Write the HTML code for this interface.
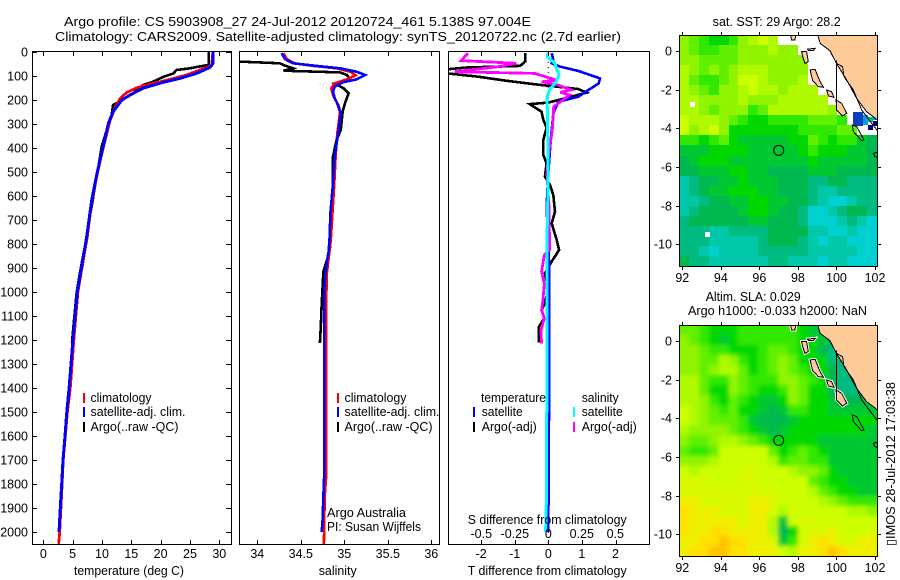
<!DOCTYPE html>
<html lang="en">
<head>
<meta charset="utf-8">
<title>Argo profile</title>
<style>
html,body{margin:0;padding:0;background:#fff;}
svg{display:block;}
text{font-family:"Liberation Sans",sans-serif;font-size:12.5px;fill:#000;}
</style>
</head>
<body>
<svg id="fig" xmlns="http://www.w3.org/2000/svg" width="900" height="580" viewBox="0 0 900 580">
<defs>
<clipPath id="c1"><rect x="32" y="52" width="200" height="493"/></clipPath>
<clipPath id="c2"><rect x="240" y="52" width="199" height="493"/></clipPath>
<clipPath id="c3"><rect x="449" y="52" width="200" height="493"/></clipPath>
<clipPath id="m1"><rect x="679" y="35" width="198" height="231"/></clipPath>
<clipPath id="m2"><rect x="679" y="325" width="198" height="231"/></clipPath>
<filter id="soft" filterUnits="userSpaceOnUse" x="640" y="290" width="260" height="290"><feGaussianBlur stdDeviation="2.2"/></filter>
</defs>
<rect width="900" height="580" fill="#fff"/>
<text x="64" y="26" textLength="467" lengthAdjust="spacingAndGlyphs">Argo profile: CS 5903908_27 24-Jul-2012 20120724_461 5.138S 97.004E</text>
<text x="55" y="41" textLength="566" lengthAdjust="spacingAndGlyphs">Climatology: CARS2009. Satellite-adjusted climatology: synTS_20120722.nc (2.7d earlier)</text>

<g id="layer-panels"></g>
<g id="layer-maps"></g>

<g>
<rect x="83" y="393" width="2" height="10" fill="#f00"/>
<rect x="83" y="407" width="2" height="10" fill="#00f"/>
<rect x="83" y="422" width="2" height="10" fill="#000"/>
<text x="90.5" y="402" textLength="61" lengthAdjust="spacingAndGlyphs">climatology</text>
<text x="90.5" y="416" textLength="95" lengthAdjust="spacingAndGlyphs">satellite-adj. clim.</text>
<text x="90.5" y="431" textLength="88" lengthAdjust="spacingAndGlyphs">Argo(..raw -QC)</text>
</g>
<g>
<rect x="337" y="393" width="2" height="10" fill="#f00"/>
<rect x="337" y="407" width="2" height="10" fill="#00f"/>
<rect x="337" y="422" width="2" height="10" fill="#000"/>
<text x="344.5" y="402" textLength="62" lengthAdjust="spacingAndGlyphs">climatology</text>
<text x="344.5" y="416" textLength="95" lengthAdjust="spacingAndGlyphs">satellite-adj. clim.</text>
<text x="344.5" y="431" textLength="88" lengthAdjust="spacingAndGlyphs">Argo(..raw -QC)</text>
<text x="327" y="517" textLength="79" lengthAdjust="spacingAndGlyphs">Argo Australia</text>
<text x="327" y="531" textLength="94" lengthAdjust="spacingAndGlyphs">PI: Susan Wijffels</text>
</g>
<g>
<text x="481" y="402" textLength="65" lengthAdjust="spacingAndGlyphs">temperature</text>
<text x="581.7" y="402" textLength="37" lengthAdjust="spacingAndGlyphs">salinity</text>
<rect x="473" y="407" width="2" height="10" fill="#00f"/>
<rect x="473" y="422" width="2" height="10" fill="#000"/>
<rect x="573" y="407" width="2" height="10" fill="#0ff"/>
<rect x="573" y="422" width="2" height="10" fill="#f0f"/>
<text x="481.7" y="416" textLength="41" lengthAdjust="spacingAndGlyphs">satellite</text>
<text x="481.7" y="431" textLength="55" lengthAdjust="spacingAndGlyphs">Argo(-adj)</text>
<text x="581.7" y="416" textLength="41" lengthAdjust="spacingAndGlyphs">satellite</text>
<text x="581.7" y="431" textLength="55" lengthAdjust="spacingAndGlyphs">Argo(-adj)</text>
<text x="467.7" y="524" textLength="159" lengthAdjust="spacingAndGlyphs">S difference from climatology</text>
</g>

<text x="74" y="575" textLength="110" lengthAdjust="spacingAndGlyphs">temperature (deg C)</text>
<text x="318.7" y="575" textLength="38" lengthAdjust="spacingAndGlyphs">salinity</text>
<text x="467.7" y="575" textLength="159" lengthAdjust="spacingAndGlyphs">T difference from climatology</text>

<text x="712.7" y="26" textLength="128" lengthAdjust="spacingAndGlyphs">sat. SST: 29 Argo: 28.2</text>
<text x="705.7" y="301" textLength="95" lengthAdjust="spacingAndGlyphs">Altim. SLA: 0.029</text>
<text x="688" y="315" textLength="179" lengthAdjust="spacingAndGlyphs">Argo h1000: -0.033 h2000: NaN</text>
<text transform="translate(895,546) rotate(-90)" textLength="164" lengthAdjust="spacingAndGlyphs">▯IMOS 28-Jul-2012 17:03:38</text>
</svg>

<script>
// ---------- Profile data (depth in dbar) ----------
const depthTicks = [0,100,200,300,400,500,600,700,800,900,1000,1100,1200,1300,1400,1500,1600,1700,1800,1900,2000];
const tempTicks = [0,5,10,15,20,25,30];
const salTicks = [34,34.5,35,35.5,36];
const salTickLabels = ['34','34.5','35','35.5','36'];
const tDiffTicks = [-2,-1,0,1,2];
const sDiffTicks = [-0.5,-0.25,0,0.25,0.5];
const sDiffTickLabels = ['-0.5','-0.25','0','0.25','0.5'];
const lonTicks = [92,94,96,98,100,102];
const latTicks = [0,-2,-4,-6,-8,-10];

const argoTempDepth = [0,54,55,68,75,89,103,124,138,172,207,221,269,325,394,478,561,644,714,783,900,1000,1100,1210];
const argoTemp = [28.2,28.2,27.8,25,22.7,22.2,20.5,18.7,17,15.3,13,11.9,11.6,10.8,9.95,9.4,8.8,8.25,7.67,7.3,6.4,5.7,5.3,4.9];
const climTempDepth = [0,55,75,96,114,131,149,169,193,235,283,415,506,617,769,1000,1200,1400,1500,1600,1700,1800,1900,2000,2054];
const climTemp = [28.9,28.7,26.7,24.4,21.6,18.7,15.9,14.2,13.1,12.2,11.4,10.05,9.2,8.3,7.5,5.9,5.2,4.6,4.1,3.75,3.4,3.2,3.0,2.8,2.6];
const satTempDepth = [0,48,64,89,110,126,151,179,200,249,297,415,506,617,769,1000,1200,1400,1500,1600,1700,1800,1900,2000];
const satTemp = [28.9,28.9,28.4,26.1,23.3,20.5,17,14.8,13.4,11.9,11.1,10,9.15,8.25,7.4,5.8,5.05,4.4,4,3.7,3.36,3.13,2.9,2.67];

const argoSalDepth = [40,47,54,68,78,85,96,114,131,151,172,211,249,325,367,436,547,756,825,915,1048,1145,1213];
const argoSal = [33.8,34.26,34.3,34.41,34.3,34.95,35.03,35.07,34.89,34.99,35.05,35.01,34.98,34.96,34.91,34.87,34.87,34.84,34.835,34.76,34.74,34.73,34.72];
const climSalDepth = [5,30,47,58,68,82,97,114,131,151,179,207,249,339,436,547,783,935,1658,1776,1853,1950,2054];
const climSal = [34.3,34.34,34.43,34.64,34.91,35.07,35.13,35.03,34.89,34.85,34.87,34.91,34.95,34.92,34.9,34.885,34.845,34.795,34.79,34.79,34.775,34.77,34.765];
const satSalDepth = [5,30,47,58,68,82,96,114,126,144,165,193,221,256,339,436,547,672,783,832,873,935,990,1750,1850,1950,2000];
const satSal = [34.28,34.32,34.41,34.68,34.95,35.14,35.24,35.14,34.99,34.89,34.87,34.89,34.93,34.96,34.93,34.89,34.87,34.84,34.83,34.82,34.8,34.78,34.77,34.77,34.76,34.75,34.74];

const argoTDiffDepth = [5,40,58,65,72,89,103,119,133,154,169,186,211,217,249,283,314,367,429,464,519,554,596,665,714,783,825,873,922,985,1047,1075,1110,1145,1211];
const argoTDiff = [-0.69,-0.69,-0.84,-2.48,-3,-3,-2.08,-1.29,-0.5,0.89,1.14,0.69,0,-0.55,-0.2,-0.15,-0.05,-0.15,-0.15,-0.05,-0.1,0.05,0.15,0.2,0.1,0.25,0.32,0.1,-0.1,0,-0.1,-0.2,-0.12,-0.28,-0.28];
const satTDiffDepth = [5,33,47,61,79,110,131,158,186,207,256,325,408,506,644,900,1300,2000];
const satTDiff = [0.1,0.15,0.1,0.35,0.9,1.54,1.5,1.2,0.9,0.3,0.15,0.1,0.05,0,-0.05,0.03,0.03,0];
const argoSDiffDepth = [5,36,47,61,82,89,117,124,135,158,168,179,228,325,436,506,644,825,846,915,965,1035,1075,1110,1159,1214];
const argoSDiff = [-0.6,-0.65,-0.24,-0.37,-0.7,-0.1,0.06,-0.05,0.06,0.17,0.09,0.16,0.04,0.03,0,-0.01,0.005,0.01,-0.03,-0.05,-0.03,-0.04,-0.05,-0.03,-0.055,-0.05];
const satSDiffDepth = [5,20,47,68,96,124,158,186,297,506,783,1300,1880,2000];
const satSDiff = [-0.005,-0.005,0.05,0.06,0.08,0.06,0.01,-0.01,-0.005,0,-0.01,-0.01,-0.015,-0.02];

// ---------- Map data: one character per cell, '.' = no data, 0-e colour level ----------
const sstRows = [
"87655689a9..........",
"876677888988........",
"8877778888888.......",
"9878789998888.......",
"976678aa98889.......",
"9876889a998999......",
"998888988899999.....",
"9987888679999998....",
"a9998765566667776...",
"a89a85555555666677..",
"66567544444557656643",
"44455554444456555443",
"34555444444445444443",
"33444554433334443333",
"12334454443332233222",
"12344555443332112222",
"11233445544332100122",
"12333345543320012332",
"23333334433320001210",
"22211222233331100100",
"22211111233321011000",
"22101111222221111100",
"32211111122111011000"
];
const slaRows = [
"77655566666654333333",
"87654566666655433333",
"88766555677655322333",
"88779865678755522233",
"88789975678765532223",
"99766876668876532223",
"99755876556875532223",
"99865765445875543334",
"a9876755434665544444",
"a9877764333455555555",
"98888765434555555554",
"87789987655555444444",
"7667aaaaa75676544444",
"8889aaaaa96776644444",
"a9aaaabbaaa988754444",
"bbbaaabbaaaaa7655444",
"bbbbbbbbbbaaa9765544",
"ccbbbbbccbaaaa987666",
"dcccbbbccb9baaaaa998",
"dcccccbcc94abbaaaaaa",
"dccddcccc935abbcaaab",
"ccddeddccb46bcdcbbcc",
"cddeeddccca9ccdedccc"
];
// Isolated fine cells of the SST field (west lon, north lat, colour key)
const sstFineLon = [100.85,101.1,100.85,101.1,100.85,101.1,101.4,101.4,101.65,101.9,101.65,101.9,92.4,93.2];
const sstFineLat = [-3.14,-3.14,-3.39,-3.39,-3.64,-3.64,-3.3,-3.55,-3.85,-3.6,-3.4,-3.3,-2.65,-9.35];
const sstFineKey = ['p','p','p','p','p','p','q','q','r','r','2','q','w','w'];

const levelColors = {'0':'#00d0d0','1':'#00c8a8','2':'#00bc80','3':'#00b850','4':'#00c830','5':'#00d800','6':'#30e800','7':'#60f000','8':'#90f400','9':'#b0fa00','a':'#ccff00','b':'#d8fa00','c':'#eef000','d':'#ffe000','e':'#ffc400','p':'#0a40c0','q':'#00a0e0','r':'#000080','w':'#ffffff'};

// Coastline / islands (lon, lat)
const coastLon = [99,99.15,99.66,100,100.53,101.05,101.57,102.3,102.3,99];
const coastLat = [0.95,0.4,0.02,-0.64,-1.5,-2.45,-3.14,-3.7,0.95,0.95];
const islandLons = [[97.59,97.9,97.85,97.67],[98.19,98.45,98.54,98.37,98.25],[98.5,98.89,98.8,98.54],[98.63,98.89,99.15,99.32,99.06,98.76],[99.49,99.75,99.87,99.58],[99.98,100.27,100.53,100.32,100.01]];
const islandLats = [[0.95,0.95,0.57,0.57],[-0.03,-0.03,-0.55,-0.64,-0.29],[0.1,0.14,0.02,0.02],[-0.98,-0.95,-1.59,-1.88,-1.84,-1.53],[-2.02,-2.1,-2.4,-2.33],[-2.53,-2.71,-3.22,-3.36,-3.05]];
const outlineLons = [[100.82,101.05,101.43,101.31,100.88],[101.91,102.2,102.2,102]];
const outlineLats = [[-3.83,-3.91,-4.6,-4.64,-4.17],[-5.29,-5.21,-5.5,-5.47]];
const shelfLon = [100,100.32,100.39,100.88,101.31,102.12];
const shelfLat = [-0.64,-0.81,-1.33,-2.02,-3.05,-4.12];
const meridianLon = [100,100];
const meridianLat = [-0.5,-2.7];
const argoLon = 97.004;
const argoLat = -5.138;

// ---------- Helpers ----------
const NS = 'http://www.w3.org/2000/svg';
function mk(tag, attrs, parent){
  const el = document.createElementNS(NS, tag);
  for (const k in attrs) el.setAttribute(k, attrs[k]);
  parent.appendChild(el);
  return el;
}
const yDepth = d => 52 + 0.24 * d;
const xTemp = v => 43.3 + 5.867 * v;
const xSal = v => 257.3 + 87 * (v - 34);
const xTDiff = v => 548.3 + 33.6 * v;
const xSDiff = v => 548.3 + 134 * v;
const panels = document.getElementById('layer-panels');
const mapsLayer = document.getElementById('layer-maps');

function drawSeries(g, values, depths, xf, color, name, width){
  const pts = values.map((v,i) => xf(v).toFixed(1) + ',' + yDepth(depths[i]).toFixed(1)).join(' ');
  const el = mk('polyline', {points:pts, fill:'none', stroke:color, 'stroke-width':width, 'shape-rendering':'crispEdges'}, g);
  
  
}
function drawFrame(g, x0, x1, name){
  const r = mk('rect', {x:x0+0.5, y:51.5, width:x1-x0, height:493, fill:'none', stroke:'#000', 'stroke-width':1, 'shape-rendering':'crispEdges'}, g);
  
  
}
function drawLine(g, x1, y1, x2, y2, name){
  const l = mk('line', {x1:x1, y1:y1, x2:x2, y2:y2, stroke:'#000', 'stroke-width':1, 'shape-rendering':'crispEdges'}, g);
  
  
}
function drawLabel(g, x, y, str, anchor, name){
  const t = mk('text', {x:x, y:y, 'text-anchor':anchor}, g);
  t.textContent = str;
  
  
}
function drawXTicks(g, ticks, xf, top, bottom){
  ticks.forEach(v => {
    const x = Math.round(xf(v)) + 0.5;
    if (top) drawLine(g, x, 52, x, 56, 'x-tick-top');
    if (bottom) drawLine(g, x, 545, x, 540, 'x-tick-bottom');
  });
}

// ---------- Panel 1: temperature ----------
const p1 = mk('g', {}, panels);


const p1c = mk('g', {'clip-path':'url(#c1)'}, p1);


drawSeries(p1c, argoTemp, argoTempDepth, xTemp, '#000', 'temperature-argo-line', 2.6);
drawSeries(p1c, climTemp, climTempDepth, xTemp, '#f00', 'temperature-climatology-line', 2.8);
drawSeries(p1c, satTemp, satTempDepth, xTemp, '#00f', 'temperature-satellite-line', 3);
drawFrame(p1, 32, 231, 'temperature-panel-frame');
drawXTicks(p1, tempTicks, xTemp, true, true);
tempTicks.forEach(v => drawLabel(p1, xTemp(v), 558, String(v), 'middle', 'temperature-tick-label'));
depthTicks.forEach(d => {
  const y = Math.round(yDepth(d)) + 0.5;
  drawLine(p1, 32, y, 37, y, 'depth-tick-left');
  drawLine(p1, 231, y, 226, y, 'depth-tick-right');
  drawLabel(p1, 28, y + 4, String(d), 'end', 'depth-tick-label');
});

// ---------- Panel 2: salinity ----------
const p2 = mk('g', {}, panels);


const p2c = mk('g', {'clip-path':'url(#c2)'}, p2);


drawSeries(p2c, argoSal, argoSalDepth, xSal, '#000', 'salinity-argo-line', 2.6);
drawSeries(p2c, climSal, climSalDepth, xSal, '#f00', 'salinity-climatology-line', 2.6);
drawSeries(p2c, satSal, satSalDepth, xSal, '#00f', 'salinity-satellite-line', 2.6);
drawFrame(p2, 239, 439, 'salinity-panel-frame');
drawXTicks(p2, salTicks, xSal, true, true);
salTicks.forEach((v,i) => drawLabel(p2, xSal(v), 558, salTickLabels[i], 'middle', 'salinity-tick-label'));

// ---------- Panel 3: differences ----------
const p3 = mk('g', {}, panels);


const p3c = mk('g', {'clip-path':'url(#c3)'}, p3);


const zero = mk('line', {x1:xTDiff(0), y1:52, x2:xTDiff(0), y2:545, stroke:'#000', 'stroke-width':1, 'stroke-dasharray':'1 4'}, p3c);


drawSeries(p3c, argoTDiff, argoTDiffDepth, xTDiff, '#000', 'tdiff-argo-line', 2.6);
drawSeries(p3c, satTDiff, satTDiffDepth, xTDiff, '#00f', 'tdiff-satellite-line', 2.6);
drawSeries(p3c, argoSDiff, argoSDiffDepth, xSDiff, '#f0f', 'sdiff-argo-line', 2.8);
drawSeries(p3c, satSDiff, satSDiffDepth, xSDiff, '#0ff', 'sdiff-satellite-line', 3);
drawFrame(p3, 448, 649, 'difference-panel-frame');
drawXTicks(p3, tDiffTicks, xTDiff, true, true);
tDiffTicks.forEach(v => drawLabel(p3, xTDiff(v), 558, String(v), 'middle', 't-difference-tick-label'));
sDiffTicks.forEach((v,i) => drawLabel(p3, xSDiff(v), 538, sDiffTickLabels[i], 'middle', 's-difference-tick-label'));

// ---------- Maps ----------
function drawMap(rows, clipId, topPx, lat0Px, name, soft, fineLon, fineLat, fineKey){
  const xLon = lon => 682.3 + 19.27 * (lon - 92);
  const yLat = lat => lat0Px - 19.33 * lat;
  const g = mk('g', {}, mapsLayer);
  
  
  const inner = mk('g', {'clip-path':'url(#' + clipId + ')'}, g);
  
  
  const cells = mk('g', soft ? {filter:'url(#soft)'} : {}, inner);
  
  
  const cw = 198 / rows[0].length;
  const ch = 231 / rows.length;
  const pad = soft ? 12 : 0;
  rows.forEach((row, j) => {
    for (let i = 0; i < row.length; i++){
      const key = row[i];
      if (key === '.') continue;
      const x0 = Math.round(679 + i * cw) - (i === 0 ? pad : 0);
      const x1 = Math.round(679 + (i + 1) * cw) + (i === row.length - 1 ? pad : 0);
      const y0 = Math.round(topPx + j * ch) - (j === 0 ? pad : 0);
      const y1 = Math.round(topPx + (j + 1) * ch) + (j === rows.length - 1 ? pad : 0);
      const cell = mk('rect', {x:x0, y:y0, width:x1-x0, height:y1-y0, fill:levelColors[key], 'shape-rendering':'crispEdges'}, cells);
      
      
    }
  });
  fineLon.forEach((lon, i) => {
    const cell = mk('rect', {x:Math.round(xLon(lon)), y:Math.round(yLat(fineLat[i])), width:5, height:5, fill:levelColors[fineKey[i]], 'shape-rendering':'crispEdges'}, inner);
    
    
  });
  const pts = (lons, lats) => lons.map((v,i) => xLon(v).toFixed(1) + ',' + yLat(lats[i]).toFixed(1)).join(' ');
  const land = mk('polygon', {points:pts(coastLon, coastLat), fill:'#ffcc99', stroke:'#000', 'stroke-width':1, 'shape-rendering':'crispEdges'}, inner);
  
  
  islandLons.forEach((lons, i) => {
    if (soft){
      const h = mk('polygon', {points:pts(lons, islandLats[i]), fill:'#fff', stroke:'#fff', 'stroke-width':3, 'shape-rendering':'crispEdges'}, inner);
      
      
    }
    const isl = mk('polygon', {points:pts(lons, islandLats[i]), fill:'#ffcc99', stroke:'#000', 'stroke-width':1, 'shape-rendering':'crispEdges'}, inner);
    
    
  });
  outlineLons.forEach((lons, i) => {
    const o = mk('polygon', {points:pts(lons, outlineLats[i]), fill:'none', stroke:'#000', 'stroke-width':1, 'shape-rendering':'crispEdges'}, inner);
    
    
  });
  const shelf = mk('polyline', {points:pts(shelfLon, shelfLat), fill:'none', stroke:'#000', 'stroke-width':1, 'shape-rendering':'crispEdges'}, inner);
  
  
  const mer = mk('polyline', {points:pts(meridianLon, meridianLat), fill:'none', stroke:'#000', 'stroke-width':1, 'shape-rendering':'crispEdges'}, inner);
  
  
  const mark = mk('circle', {cx:xLon(argoLon), cy:yLat(argoLat), r:5, fill:'none', stroke:'#000', 'stroke-width':1}, inner);
  
  
  const frame = mk('rect', {x:679.5, y:topPx + 0.5, width:198, height:231, fill:'none', stroke:'#000', 'stroke-width':1, 'shape-rendering':'crispEdges'}, g);
  
  
  const bottom = topPx + 231;
  lonTicks.forEach(lon => {
    const x = Math.round(xLon(lon)) + 0.5;
    drawLine(g, x, topPx, x, topPx - 3, 'lon-tick-top');
    drawLine(g, x, bottom, x, bottom + 4, 'lon-tick-bottom');
    drawLabel(g, xLon(lon), bottom + 16, String(lon), 'middle', 'lon-tick-label');
  });
  latTicks.forEach(lat => {
    const y = Math.round(yLat(lat)) + 0.5;
    drawLine(g, 679, y, 676, y, 'lat-tick-left');
    drawLine(g, 877, y, 881, y, 'lat-tick-right');
    drawLabel(g, 672, y + 4, String(lat), 'end', 'lat-tick-label');
  });
}
drawMap(sstRows, 'm1', 35, 51, 'sst-map', false, sstFineLon, sstFineLat, sstFineKey);
drawMap(slaRows, 'm2', 325, 341, 'sla-map', true, [], [], []);
</script>
</body>
</html>
